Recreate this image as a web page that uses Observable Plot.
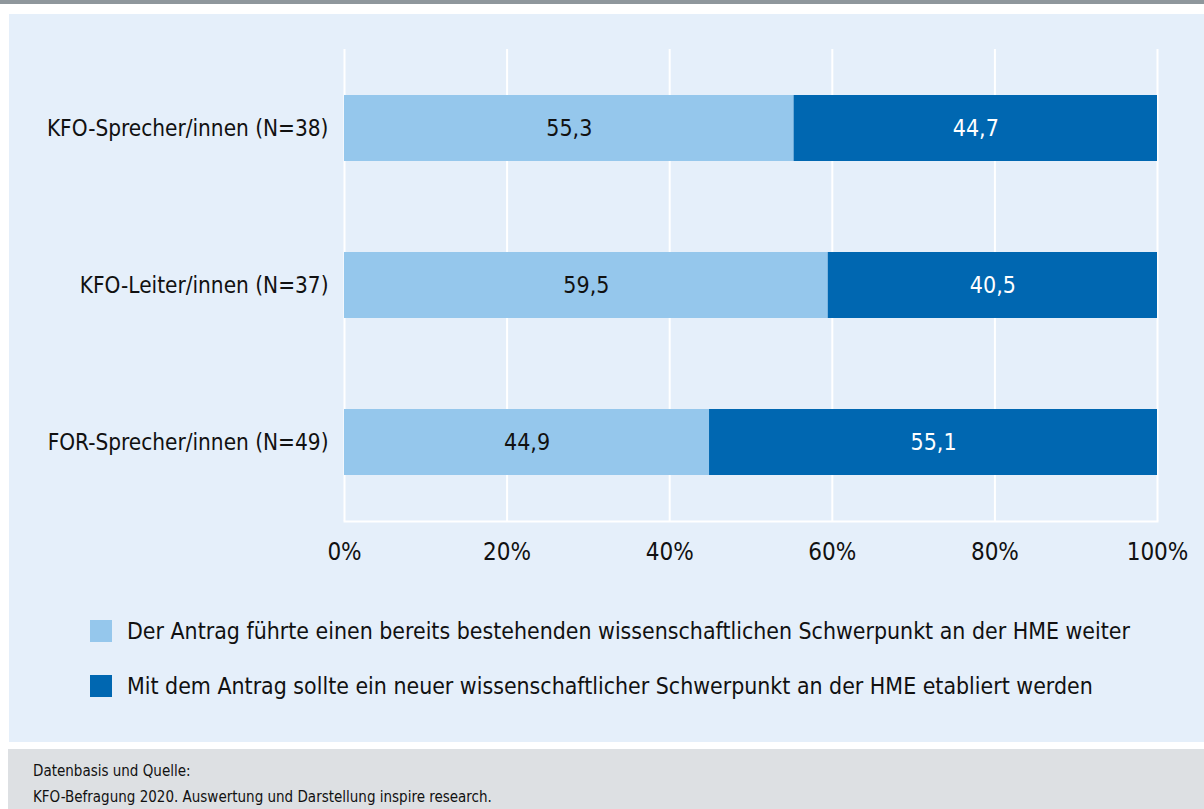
<!DOCTYPE html>
<html>
<head>
<meta charset="utf-8">
<script src="https://cdn.jsdelivr.net/npm/d3@7"></script>
<script src="https://cdn.jsdelivr.net/npm/@observablehq/plot@0.6"></script>
<style>
  html, body { margin: 0; padding: 0; background: #ffffff; width: 1204px; height: 809px; overflow: hidden; }
  body { position: relative; font-family: "DejaVu Sans Condensed", "Liberation Sans Narrow", "Liberation Sans", sans-serif; color: #111; }
  #topbar { position: absolute; left: 0; top: 0; width: 1204px; height: 4px; background: #8f979c; }
  #panel { position: absolute; left: 9px; top: 14px; width: 1195px; height: 728px; background: #e5effa; }
  #chart { position: absolute; left: 0; top: 0; }
  #legend { position: absolute; left: 81px; top: 589px; }
  .row { display: flex; align-items: center; height: 55px; font-size: 22.9px; white-space: nowrap; }
  .sw { width: 22px; height: 22px; margin-right: 15px; flex: none; }
  #footer { position: absolute; left: 8px; top: 749px; width: 1196px; height: 60px; background: #dde0e3; }
  #footer div { position: absolute; left: 25px; font-size: 15px; white-space: nowrap; line-height: 26px; }
</style>
</head>
<body>
<div id="topbar"></div>
<div id="panel">
  <div id="chart"></div>
  <div id="legend"></div>
</div>
<div id="footer">
  <div style="top:9px">Datenbasis und Quelle:</div>
  <div style="top:35px">KFO-Befragung 2020. Auswertung und Darstellung inspire research.</div>
</div>
<script>
const groups = ["KFO-Sprecher/innen (N=38)", "KFO-Leiter/innen (N=37)", "FOR-Sprecher/innen (N=49)"];
const seriesNames = [
  "Der Antrag führte einen bereits bestehenden wissenschaftlichen Schwerpunkt an der HME weiter",
  "Mit dem Antrag sollte ein neuer wissenschaftlicher Schwerpunkt an der HME etabliert werden"
];
const existingFocus = [55.3, 59.5, 44.9];
const newFocus = [44.7, 40.5, 55.1];
const colors = ["#95c7ec", "#0067b1"];
const textColors = ["#111111", "#ffffff"];
const xTicks = [0, 20, 40, 60, 80, 100];

const rows = [];
groups.forEach((g, i) => {
  rows.push({group: g, series: seriesNames[0], value: existingFocus[i]});
  rows.push({group: g, series: seriesNames[1], value: newFocus[i]});
});

const fontFamily = '"DejaVu Sans Condensed", "Liberation Sans Narrow", "Liberation Sans", sans-serif';

const chart = Plot.plot({
  width: 1195,
  height: 560,
  marginLeft: 335,
  marginRight: 47,
  marginTop: 35,
  marginBottom: 53,
  style: {fontFamily, fontSize: "22px", color: "#111", background: "transparent", overflow: "visible"},
  x: {domain: [0, 100], ticks: xTicks, tickFormat: d => d + "%"},
  y: {domain: groups, paddingInner: 0.58, paddingOuter: 0.29, label: null},
  color: {domain: seriesNames, range: colors},
  marks: [
    Plot.gridX(xTicks, {stroke: "#ffffff", strokeOpacity: 1, strokeWidth: 2}),
    Plot.frame({anchor: "bottom", stroke: "#ffffff", strokeWidth: 2}),
    Plot.barX(rows, Plot.stackX({x: "value", y: "group", fill: "series", order: null})),
    Plot.text(rows, Plot.stackX({
      x: "value", y: "group", z: "series", order: null,
      text: d => d.value.toFixed(1).replace(".", ","),
      fill: d => textColors[seriesNames.indexOf(d.series)],
      fontSize: 23
    })),
    Plot.axisX({ticks: xTicks, tickSize: 0, tickPadding: 21, fontSize: 24, label: null, tickFormat: d => d + "%"}),
    Plot.axisY({tickSize: 0, tickPadding: 16, fontSize: 22.4, label: null})
  ]
});
document.getElementById("chart").appendChild(chart);

const legend = document.getElementById("legend");
seriesNames.forEach((name, i) => {
  const row = document.createElement("div");
  row.className = "row";
  const sw = document.createElement("span");
  sw.className = "sw";
  sw.style.background = colors[i];
  const label = document.createElement("span");
  label.textContent = name;
  row.appendChild(sw);
  row.appendChild(label);
  legend.appendChild(row);
});
</script>
</body>
</html>
